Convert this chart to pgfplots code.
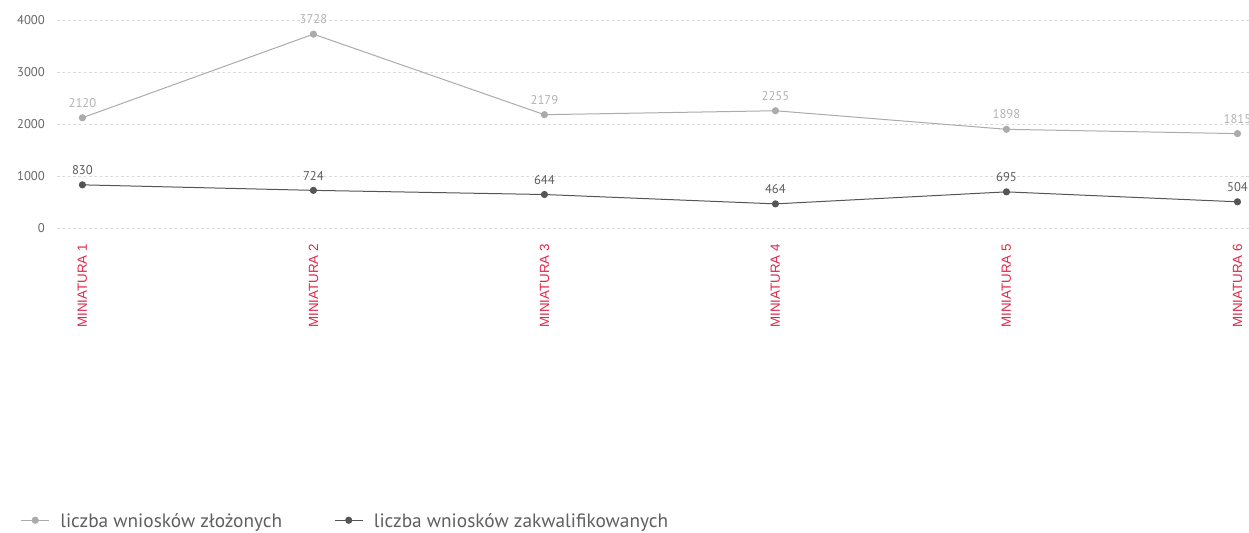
\documentclass[border=0pt]{standalone}
\usepackage{pgfplots}
\pgfplotsset{compat=1.18}
\usepackage{fontspec}
\setmainfont{PT Sans}
\newfontfamily\tickfont{Liberation Sans}
\definecolor{lightline}{HTML}{ABABAB}
\definecolor{lightlab}{HTML}{B3B3B3}
\definecolor{darkline}{HTML}{555555}
\definecolor{darklab}{HTML}{5A5A5A}
\definecolor{gridc}{HTML}{DADADA}
\definecolor{axred}{HTML}{E0284A}
\definecolor{ticktext}{HTML}{666666}
\definecolor{legtext}{HTML}{5F5F5F}
\begin{document}
\begin{tikzpicture}
\begin{axis}[
  name=ax,
  scale only axis,
  width=894pt, height=156pt,
  xmin=-0.11, xmax=5.05,
  ymin=0, ymax=4000,
  axis line style={draw=none},
  major tick length=0pt,
  xtick={0,1,2,3,4,5},
  xticklabels={MINIATURA 1,MINIATURA 2,MINIATURA 3,MINIATURA 4,MINIATURA 5,MINIATURA 6},
  xticklabel style={rotate=90, anchor=east, inner sep=0pt, font=\tickfont\fontsize{10}{12}\selectfont, text=axred},
  xticklabel shift=12pt,
  ytick={0,1000,2000,3000,4000},
  yticklabel style={anchor=east, inner sep=0pt, font=\fontsize{9.5}{11}\selectfont, text=ticktext},
  yticklabel shift=9pt,
  /pgf/number format/assume math mode=true,
  /pgf/number format/1000 sep={},
  ymajorgrids,
  grid style={gridc, dash pattern=on 2pt off 2pt, line width=0.5pt},
  clip=false,
  legend columns=2,
  legend style={at={(-0.034,-1.405)}, anchor=west, draw=none, fill=none,
    font=\fontsize{14.5}{16}\selectfont, text=legtext,
    /tikz/every even column/.append style={column sep=39pt},
    nodes={inner sep=0pt, text depth=0pt}},
  legend image code/.code={\draw[mark repeat=2, mark phase=2] plot coordinates {(0pt,0pt) (10.5pt,0pt) (21pt,0pt)}; \path (29pt,0pt);},
  nodes near coords,
  every node near coord/.append style={font=\fontsize{9.5}{11}\selectfont, anchor=south, yshift=4pt},
]
\addplot[color=lightline, line width=0.75pt, mark=*, mark size=2.3pt,
  mark options={fill=lightline, draw=lightline},
  every node near coord/.append style={text=lightlab}]
  coordinates {(0,2120) (1,3728) (2,2179) (3,2255) (4,1898) (5,1815)};
\addlegendentry{liczba wniosków złożonych}
\addplot[color=darkline, line width=0.75pt, mark=*, mark size=2.3pt,
  mark options={fill=darkline, draw=darkline},
  every node near coord/.append style={text=darklab}]
  coordinates {(0,830) (1,724) (2,644) (3,464) (4,695) (5,504)};
\addlegendentry{liczba wniosków zakwalifikowanych}
\end{axis}
\pgfresetboundingbox
\path[use as bounding box] ([xshift=-42.75pt, yshift=-228pt]ax.south west) rectangle ([yshift=15pt]ax.north east);
\end{tikzpicture}
\end{document}
